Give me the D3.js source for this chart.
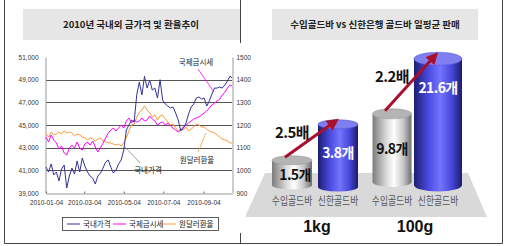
<!DOCTYPE html>
<html>
<head>
<meta charset="utf-8">
<script src="https://cdn.jsdelivr.net/npm/d3@7"></script>
<style>
  body { margin: 0; background: #fff; }
  svg { display: block; }
  .tick text { fill: #333; }
</style>
</head>
<body>
<div id="viz"></div>
<script>
// left chart data, one point every 4 days
var dates = [
  '2010-01-04','2010-01-08','2010-01-12','2010-01-16','2010-01-20','2010-01-24','2010-01-28',
  '2010-02-01','2010-02-05','2010-02-09','2010-02-13','2010-02-17','2010-02-21','2010-02-25',
  '2010-03-01','2010-03-05','2010-03-09','2010-03-13','2010-03-17','2010-03-21','2010-03-25','2010-03-29',
  '2010-04-02','2010-04-06','2010-04-10','2010-04-14','2010-04-18','2010-04-22','2010-04-26','2010-04-30',
  '2010-05-04','2010-05-08','2010-05-12','2010-05-16','2010-05-20','2010-05-24','2010-05-28',
  '2010-06-01','2010-06-05','2010-06-09','2010-06-13','2010-06-17','2010-06-21','2010-06-25','2010-06-29',
  '2010-07-03','2010-07-07','2010-07-11','2010-07-15','2010-07-19','2010-07-23','2010-07-27','2010-07-31',
  '2010-08-04','2010-08-08','2010-08-12','2010-08-16','2010-08-20','2010-08-24','2010-08-28',
  '2010-09-01','2010-09-05','2010-09-09','2010-09-13','2010-09-17','2010-09-21','2010-09-25','2010-09-29',
  '2010-10-03','2010-10-07','2010-10-11','2010-10-15','2010-10-18'
];

// 국내가격 (left axis)
var domestic = [
  41290,40850,41560,40590,40850,40060,41110,41470,39440,40500,41200,40670,41820,40850,
  42090,41380,40850,40500,40320,39790,40500,40760,41200,41730,41910,41290,40760,41030,
  41560,41910,42790,44560,45000,45440,45260,47650,48790,47650,49300,48260,48970,48090,
  48260,47380,49000,47200,46850,46670,46500,46590,46060,45440,44470,44730,45170,45970,
  46590,46850,47380,47470,47290,47380,46670,47120,47730,48260,48260,48350,48260,48530,
  48880,49320,49150
];

// 국제금시세 (left axis)
var intlGold = [
  43940,43500,44120,43670,43410,42880,43140,42530,42350,42970,43230,42970,43500,42970,
  42790,43320,43500,43230,43590,43060,42620,42970,43410,43850,44290,44560,44730,44470,
  44730,45000,44730,45350,45620,45170,45440,45260,45350,45620,45350,45440,45790,45530,
  45350,45000,45170,45260,45000,45170,44910,44730,44560,44380,44560,44820,45000,45170,
  45350,45530,45620,45700,45880,46060,46230,46500,46760,46940,47120,47290,47650,47910,
  48260,48530,48440
];

// 원달러환율 (right axis)
var wonDollar = [
  1160,1147,1169,1156,1160,1169,1160,1174,1165,1169,1165,1152,1160,1156,
  1147,1143,1134,1143,1138,1129,1138,1143,1129,1125,1121,1121,1116,1112,
  1116,1107,1121,1143,1174,1200,1204,1235,1257,1266,1284,1266,1253,1235,
  1244,1222,1240,1244,1227,1213,1200,1204,1187,1174,1182,1178,1191,1174,
  1182,1191,1204,1200,1191,1191,1182,1174,1169,1165,1156,1147,1138,1134,
  1129,1121,1121
];

var leftTicks = [39000, 41000, 43000, 45000, 47000, 49000, 51000];
var gridTicks = [41000, 43000, 45000, 47000, 49000];
var rightTicks = [900, 1000, 1100, 1200, 1300, 1400, 1500];
var xTickDates = ['2010-01-04', '2010-03-04', '2010-05-04', '2010-07-04', '2010-09-04'];
var seriesNames = ['국내가격', '국제금시세', '원달러환율'];
var seriesColors = ['#333399', '#ff00ff', '#ff9933'];

// right chart data
var barNames = ['수입골드바', '신한골드바', '수입골드바', '신한골드바'];
var barGroups = ['1kg', '1kg', '100g', '100g'];
var barValues = [1.5, 3.8, 9.8, 21.6];
var groupNames = ['1kg', '100g'];
var ratioLabels = ['2.5배', '2.2배'];

var leftTitle = '2010년 국내외 금가격 및 환율추이';
var rightTitle = '수입골드바 vs 신한은행 골드바 일평균 판매';

var KR = '"Noto Sans CJK KR", "Noto Sans", sans-serif';
var LAT = '"Liberation Sans", Arial, sans-serif';
var parse = d3.timeParse('%Y-%m-%d');

var svg = d3.select('#viz').append('svg')
  .attr('width', 506)
  .attr('height', 246);

var defs = svg.append('defs');

// frame + divider
svg.append('path')
  .attr('d', 'M4.5,0V243.5H502.5V0')
  .attr('fill', 'none').attr('stroke', '#444');
svg.append('line')
  .attr('x1', 240.5).attr('x2', 240.5).attr('y1', 0).attr('y2', 243)
  .attr('stroke', '#444');

// ---------- right panel floor (drawn first, left chart sits on top) ----------
svg.append('polygon')
  .attr('points', '265,173 468,173 487,217 245,217')
  .attr('fill', '#d9d9d9');

// left chart white area
svg.append('rect')
  .attr('x', 5).attr('y', 43).attr('width', 241).attr('height', 190)
  .attr('fill', '#fff');

// title boxes
svg.append('rect').attr('x', 23).attr('y', 9).attr('width', 217).attr('height', 31).attr('fill', '#e6e6e6');
svg.append('rect').attr('x', 272).attr('y', 9).attr('width', 206).attr('height', 31).attr('fill', '#e6e6e6');

svg.append('text')
  .attr('x', 131).attr('y', 28)
  .attr('text-anchor', 'middle')
  .style('font-family', KR).style('font-size', '9.5px').style('font-weight', 'bold')
  .attr('fill', '#222')
  .text(leftTitle);

svg.append('text')
  .attr('x', 375).attr('y', 28)
  .attr('text-anchor', 'middle')
  .style('font-family', KR).style('font-size', '9.5px').style('font-weight', 'bold')
  .attr('fill', '#222')
  .text(rightTitle);

// ---------- left line chart ----------
var xScale = d3.scaleTime()
  .domain([parse('2010-01-04'), parse('2010-10-18')])
  .range([46, 232]);

var yLeft = d3.scaleLinear().domain([39000, 51000]).range([193, 57]);
var yRight = d3.scaleLinear().domain([900, 1500]).range([193, 57]);

// gridlines
svg.append('g')
  .attr('transform', 'translate(46,0)')
  .call(d3.axisLeft(yLeft).tickValues(gridTicks).tickSize(-186).tickFormat(''))
  .call(function(g) { g.select('.domain').remove(); })
  .selectAll('line')
  .attr('stroke', '#555')
  .attr('shape-rendering', 'crispEdges');

var yGuide = svg.append('g')
  .attr('transform', 'translate(45.5,0)')
  .call(d3.axisLeft(yLeft).tickValues(leftTicks).tickFormat(d3.format(',')).tickSize(0).tickPadding(7));
yGuide.select('.domain').attr('stroke', '#999');
yGuide.selectAll('text').style('font-family', LAT).style('font-size', '6.5px');

var yGuideR = svg.append('g')
  .attr('transform', 'translate(232.5,0)')
  .call(d3.axisRight(yRight).tickValues(rightTicks).tickFormat(d3.format('d')).tickSize(0).tickPadding(4));
yGuideR.select('.domain').attr('stroke', '#999');
yGuideR.selectAll('text').style('font-family', LAT).style('font-size', '6.5px');

var xGuide = svg.append('g')
  .attr('transform', 'translate(0,193.5)')
  .call(d3.axisBottom(xScale)
    .tickValues(xTickDates.map(parse))
    .tickFormat(d3.timeFormat('%Y-%m-%d'))
    .tickSizeInner(-2).tickSizeOuter(0).tickPadding(7));
xGuide.select('.domain').attr('stroke', '#999');
xGuide.selectAll('line').attr('stroke', '#666');
xGuide.selectAll('text').style('font-family', LAT).style('font-size', '6.5px');

var points = dates.map(function(d, i) {
  return { date: parse(d), domestic: domestic[i], intl: intlGold[i], fx: wonDollar[i] };
});

var lineLeft = function(key) {
  return d3.line()
    .x(function(d) { return xScale(d.date); })
    .y(function(d) { return yLeft(d[key]); });
};
var lineFx = d3.line()
  .x(function(d) { return xScale(d.date); })
  .y(function(d) { return yRight(d.fx); });

svg.append('path').datum(points)
  .attr('d', lineFx)
  .attr('fill', 'none').attr('stroke', seriesColors[2]).attr('stroke-width', 1);
svg.append('path').datum(points)
  .attr('d', lineLeft('intl'))
  .attr('fill', 'none').attr('stroke', seriesColors[1]).attr('stroke-width', 1);
svg.append('path').datum(points)
  .attr('d', lineLeft('domestic'))
  .attr('fill', 'none').attr('stroke', seriesColors[0]).attr('stroke-width', 1);

// callouts
var callouts = [
  { text: seriesNames[1], tx: 196, ty: 65, line: [198, 69, 214, 92], color: seriesColors[1] },
  { text: seriesNames[2], tx: 197, ty: 163, line: [206, 133, 198, 152], color: '#e8a040' },
  { text: seriesNames[0], tx: 148, ty: 173, line: [125, 147, 140, 163], color: '#888' }
];
callouts.forEach(function(c) {
  svg.append('line')
    .attr('x1', c.line[0]).attr('y1', c.line[1])
    .attr('x2', c.line[2]).attr('y2', c.line[3])
    .attr('stroke', c.color).attr('stroke-width', 0.8);
  svg.append('text')
    .attr('x', c.tx).attr('y', c.ty)
    .attr('text-anchor', 'middle')
    .style('font-family', KR).style('font-size', '7.5px')
    .attr('fill', '#222')
    .text(c.text);
});

// legend
var legend = svg.append('g');
legend.append('rect')
  .attr('x', 62.5).attr('y', 217.5).attr('width', 156).attr('height', 13)
  .attr('fill', '#fff').attr('stroke', '#333').attr('stroke-width', 0.8);
var legendX = [67, 113, 163];
seriesNames.forEach(function(n, i) {
  legend.append('line')
    .attr('x1', legendX[i]).attr('x2', legendX[i] + 13)
    .attr('y1', 224).attr('y2', 224)
    .attr('stroke', seriesColors[i]).attr('stroke-width', 1);
  legend.append('text')
    .attr('x', legendX[i] + 16).attr('y', 227)
    .style('font-family', KR).style('font-size', '7.5px')
    .attr('fill', '#222')
    .text(n);
});

// ---------- right cylinder chart ----------
var blueGrad = defs.append('linearGradient').attr('id', 'blueBody');
[[0, '#1e1e70'], [0.3, '#4a4ae0'], [0.55, '#7474ff'], [0.8, '#4444d8'], [1, '#1c1c68']].forEach(function(s) {
  blueGrad.append('stop').attr('offset', s[0]).attr('stop-color', s[1]);
});
var grayGrad = defs.append('linearGradient').attr('id', 'grayBody');
[[0, '#7c7c7c'], [0.35, '#d8d8d8'], [0.55, '#ffffff'], [0.8, '#c4c4c4'], [1, '#6e6e6e']].forEach(function(s) {
  grayGrad.append('stop').attr('offset', s[0]).attr('stop-color', s[1]);
});

var groupScale = d3.scaleBand().domain(groupNames).range([265, 465]);
var innerScale = d3.scalePoint().domain(['수입골드바', '신한골드바']).range([0, 100]).padding(0.587);
var hScale = {
  '1kg': d3.scaleLinear().domain([0, 4]).range([0, 66]),
  '100g': d3.scaleLinear().domain([0, 24]).range([20, 138])
};
var bottoms = [185, 187, 182, 185];
var radii = [20, 20, 19.5, 24];
var tilts = [4.5, 4.5, 5, 6.5];

var bars = barValues.map(function(v, i) {
  var cx = groupScale(barGroups[i]) + innerScale(barNames[i]);
  return {
    cx: cx,
    bottom: bottoms[i],
    top: bottoms[i] - hScale[barGroups[i]](v),
    rx: radii[i],
    ry: tilts[i],
    blue: barNames[i] === '신한골드바',
    value: v
  };
});

bars.forEach(function(b, i) {
  var g = svg.append('g');
  var body = b.blue ? 'url(#blueBody)' : 'url(#grayBody)';
  g.append('ellipse')
    .attr('cx', b.cx).attr('cy', b.bottom).attr('rx', b.rx).attr('ry', b.ry)
    .attr('fill', body);
  g.append('rect')
    .attr('x', b.cx - b.rx).attr('y', b.top)
    .attr('width', b.rx * 2).attr('height', b.bottom - b.top)
    .attr('fill', body);
  g.append('ellipse')
    .attr('cx', b.cx).attr('cy', b.top).attr('rx', b.rx).attr('ry', b.ry)
    .attr('fill', b.blue ? '#7f7ff2' : '#b4b4b4')
    .attr('stroke', b.blue ? '#5a5ad8' : '#9a9a9a').attr('stroke-width', 0.6);

  var labelY = b.blue ? b.top + 0.45 * (b.bottom - b.top) - (i === 3 ? 28 : 0) : b.top + 0.52 * (b.bottom - b.top);
  if (i === 0) labelY = b.top + 15;
  g.append('text')
    .attr('x', b.cx + (i === 0 ? 3 : 0)).attr('y', labelY + 5)
    .attr('text-anchor', 'middle')
    .style('font-family', KR).style('font-size', '14px').style('font-weight', 'bold')
    .style('letter-spacing', '-0.6px')
    .attr('fill', b.blue ? '#fff' : '#111')
    .text(b.value + '개');

  // name under the cylinder (narrow glyphs, stretched tall like the original)
  svg.append('text')
    .attr('transform', 'translate(' + b.cx + ',205) scale(1,1.35)')
    .attr('text-anchor', 'middle')
    .style('font-family', KR).style('font-size', '8.8px')
    .attr('fill', '#555')
    .text(barNames[i]);
});

// arrows between gray and blue cylinder of each group
defs.append('marker')
  .attr('id', 'head')
  .attr('viewBox', '0 0 10 10')
  .attr('refX', 5).attr('refY', 5)
  .attr('markerWidth', 4).attr('markerHeight', 4)
  .attr('orient', 'auto')
  .append('path').attr('d', 'M0,0L10,5L0,10z').attr('fill', '#a8102c');

groupNames.forEach(function(gname, k) {
  var a = bars[k * 2], b = bars[k * 2 + 1];
  var x1 = a.cx - 7, y1 = a.top - 3, x2 = b.cx - 4, y2 = b.top - 2;
  svg.append('line')
    .attr('x1', x1).attr('y1', y1).attr('x2', x2).attr('y2', y2)
    .attr('stroke', '#a8102c').attr('stroke-width', 3)
    .attr('marker-end', 'url(#head)');
  svg.append('text')
    .attr('x', a.cx).attr('y', (y1 + y2) / 2 - 2)
    .attr('text-anchor', 'middle')
    .style('font-family', KR).style('font-size', '15px').style('font-weight', 'bold')
    .style('letter-spacing', '-0.6px')
    .attr('fill', '#111')
    .text(ratioLabels[k]);

  svg.append('text')
    .attr('x', groupScale(gname) + groupScale.bandwidth() / 2 + (k === 0 ? 2 : 0)).attr('y', 232)
    .attr('text-anchor', 'middle')
    .style('font-family', LAT).style('font-size', '16px').style('font-weight', 'bold')
    .attr('fill', '#111')
    .text(gname);
});
</script>
</body>
</html>
